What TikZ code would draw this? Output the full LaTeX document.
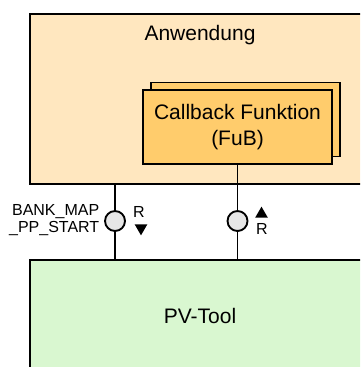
\documentclass[tikz,border=0pt]{standalone}
\usepackage{fontspec}
\setmainfont{Liberation Sans}
\usetikzlibrary{shapes,arrows,shapes.geometric}

\definecolor{appfill}{HTML}{FFE7BF}
\definecolor{cbfill}{HTML}{FFCC6C}
\definecolor{pvfill}{HTML}{D9F7D0}
\definecolor{iffill}{HTML}{E6E6E6}

\begin{document}
\begin{tikzpicture}[x=0.75pt,y=-0.75pt]
	\tikzstyle{every node}=[font=\fontsize{15.75}{20}\selectfont]
	\tikzstyle{block}=[draw, line width=1.5pt, rectangle, inner sep=0pt]
	\tikzstyle{iface}=[draw, circle, fill=iffill, line width=1.4pt, minimum size=15pt, inner sep=0pt]
	\tikzstyle{small}=[font=\fontsize{12}{12.8}\selectfont, inner sep=0pt]
	\tikzstyle{tri}=[regular polygon, regular polygon sides=3, fill=black, minimum size=11pt, inner sep=0pt]

	\useasboundingbox (0,0) rectangle (360,367);
	\clip (0,0) rectangle (360,367);

	%% boxes
	\node [block, fill=appfill, minimum width=258.75pt, minimum height=127.5pt] (anw) at (202.5,99) {};
	\node (anwtext) at (200,35) {Anwendung};
	\node [block, fill=pvfill, minimum width=258.75pt, minimum height=93.75pt] (pv) at (202.5,322.5) {};
	\node (pvtext) at (200,316) {PV-Tool};

	%% callback function
	\node [draw, line width=1pt, fill=cbfill, minimum width=141.75pt, minimum height=55.5pt] (cbback) at (245.5,119.5) {};
	\node [block, fill=cbfill, minimum width=141.75pt, minimum height=55.5pt, align=center] (cb) at (237.5,127) {Callback Funktion\\(FuB)};

	%% interfaces
	\node [iface] (ifa) at (115,221) {};
	\node [iface] (ifb) at (237.5,221) {};
	\draw [line width=1pt] (anw.south -| ifa) -- (ifa);
	\draw [line width=1pt] (ifa) -- (pv.north -| ifa);
	\draw [line width=1pt] (cb.south) -- (ifb);
	\draw [line width=1pt] (ifb) -- (pv.north -| ifb);

	%% labels
	\node [small, anchor=east, align=right] (bankmap) at (99.5,220) {BANK\_MAP\\\_PP\_START};
	\node [small] (ra) at (139,212) {R};
	\node [tri, regular polygon rotate=180] (tria) at (141,228) {};
	\node [tri] (trib) at (261.5,214) {};
	\node [small] (rb) at (262,229) {R};

\end{tikzpicture}
\end{document}
